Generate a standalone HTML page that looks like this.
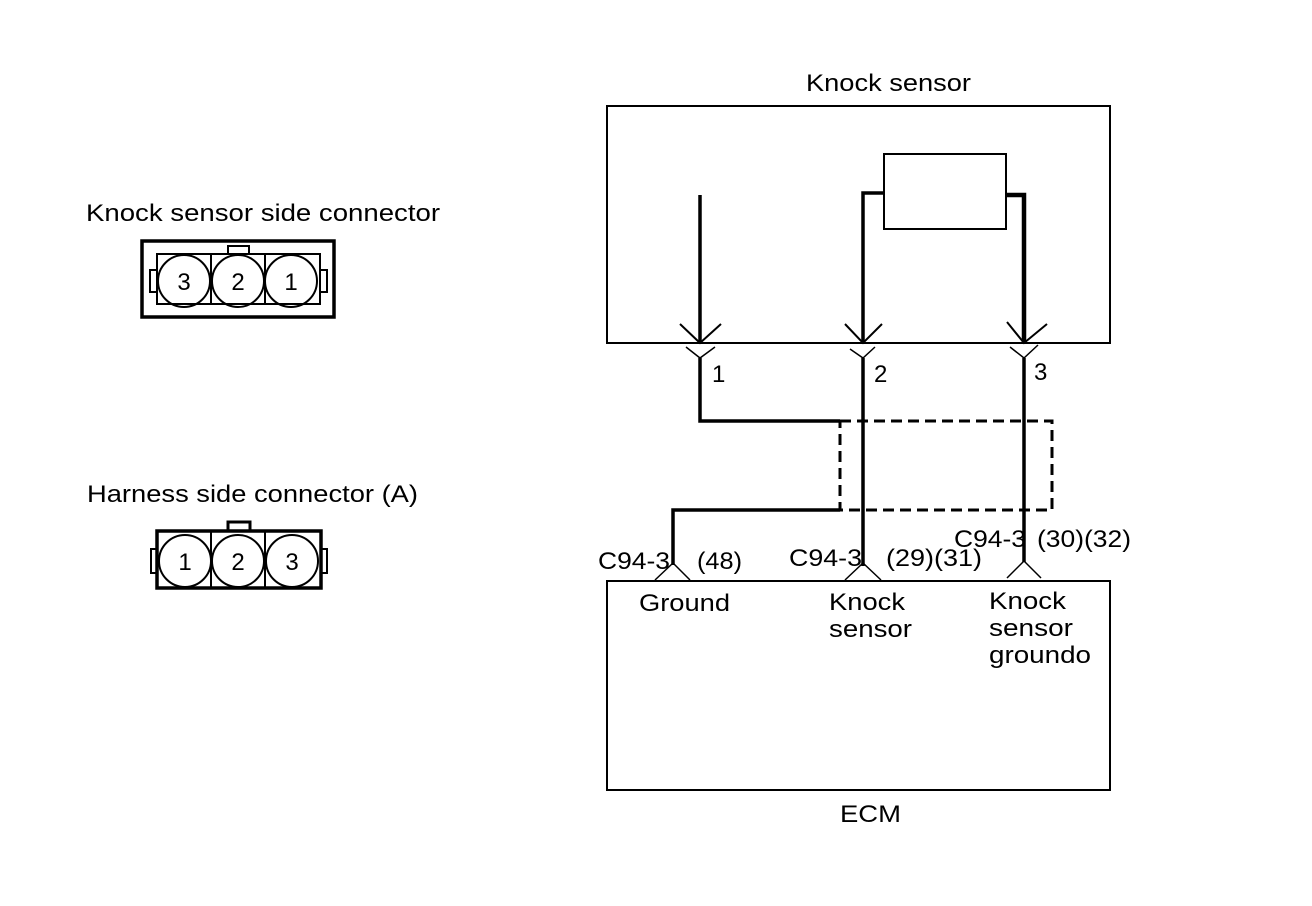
<!DOCTYPE html>
<html><head><meta charset="utf-8"><style>
html,body{margin:0;padding:0;background:#fff;}
svg{display:block;}
text{font-family:"Liberation Sans",sans-serif;fill:#000;}
</style></head><body>
<svg width="1312" height="906" viewBox="0 0 1312 906" xmlns="http://www.w3.org/2000/svg">
<g font-size="24" lengthAdjust="spacingAndGlyphs">
<text x="806" y="91" textLength="165" lengthAdjust="spacingAndGlyphs">Knock sensor</text>
<text x="86" y="221" textLength="354" lengthAdjust="spacingAndGlyphs">Knock sensor side connector</text>
<text x="87" y="502" textLength="331" lengthAdjust="spacingAndGlyphs">Harness side connector (A)</text>
<text x="840" y="822" textLength="61" lengthAdjust="spacingAndGlyphs">ECM</text>
<text x="639" y="611" textLength="91" lengthAdjust="spacingAndGlyphs">Ground</text>
<text x="829" y="610" textLength="76" lengthAdjust="spacingAndGlyphs">Knock</text>
<text x="829" y="637" textLength="83" lengthAdjust="spacingAndGlyphs">sensor</text>
<text x="989" y="609" textLength="77" lengthAdjust="spacingAndGlyphs">Knock</text>
<text x="989" y="636" textLength="84" lengthAdjust="spacingAndGlyphs">sensor</text>
<text x="989" y="663" textLength="102" lengthAdjust="spacingAndGlyphs">groundo</text>
<text x="598" y="569" textLength="72" lengthAdjust="spacingAndGlyphs">C94-3</text>
<text x="697" y="569" textLength="45" lengthAdjust="spacingAndGlyphs">(48)</text>
<text x="789" y="566" textLength="73" lengthAdjust="spacingAndGlyphs">C94-3</text>
<text x="886" y="566" textLength="96" lengthAdjust="spacingAndGlyphs">(29)(31)</text>
<text x="954" y="547" textLength="72" lengthAdjust="spacingAndGlyphs">C94-3</text>
<text x="1037" y="547" textLength="94" lengthAdjust="spacingAndGlyphs">(30)(32)</text>
<text x="712" y="382">1</text>
<text x="874" y="382">2</text>
<text x="1034" y="380">3</text>
</g>
<g fill="none" stroke="#000">
<rect x="607" y="106" width="503" height="237" stroke-width="2"/>
<rect x="884" y="154" width="122" height="75" stroke-width="2"/>
<rect x="607" y="581" width="503" height="209" stroke-width="2"/>
<line x1="700" y1="195" x2="700" y2="343" stroke-width="3.5"/>
<polyline points="884,193 863,193 863,343" stroke-width="3.5"/>
<polyline points="1006,195 1024,195 1024,343" stroke-width="4.5"/>
<polyline points="680,324 700,343 721,324" stroke-width="2"/>
<polyline points="845,324 863,343 882,324" stroke-width="2"/>
<polyline points="1007,322 1024,343 1047,324" stroke-width="2"/>
<polyline points="686,347 700,358 715,347" stroke-width="1.5"/>
<polyline points="850,349 863,358 875,347" stroke-width="1.5"/>
<polyline points="1010,347 1024,358 1038,345" stroke-width="1.5"/>
<polyline points="700,358 700,421 840,421" stroke-width="3.5"/>
<polyline points="840,510 673,510 673,565" stroke-width="3.5"/>
<line x1="863" y1="358" x2="863" y2="566" stroke-width="3.5"/>
<line x1="1024" y1="358" x2="1024" y2="562" stroke-width="3.5"/>
<polyline points="840,421 1052,421 1052,510 840,510 840,421" stroke-width="3" stroke-dasharray="11,6"/>
<polyline points="655,580 673,563 690,580" stroke-width="1.5"/>
<polyline points="845,580 863,563 881,580" stroke-width="1.5"/>
<polyline points="1007,578 1024,561 1041,578" stroke-width="1.5"/>

<rect x="142" y="241" width="192" height="76" stroke-width="3.5"/>
<rect x="157" y="254" width="163" height="50" stroke-width="2"/>
<rect x="228" y="246" width="21" height="8" stroke-width="2"/>
<rect x="150" y="270" width="7" height="22" stroke-width="2"/>
<rect x="320" y="270" width="7" height="22" stroke-width="2"/>
<line x1="211" y1="254" x2="211" y2="304" stroke-width="2"/>
<line x1="265" y1="254" x2="265" y2="304" stroke-width="2"/>
<circle cx="184" cy="281" r="26" stroke-width="2"/>
<circle cx="238" cy="281" r="26" stroke-width="2"/>
<circle cx="291" cy="281" r="26" stroke-width="2"/>
<rect x="157" y="531" width="164" height="57" stroke-width="3.5"/>
<rect x="228" y="522" width="22" height="9" stroke-width="3"/>
<rect x="151" y="549" width="6" height="24" stroke-width="2"/>
<rect x="321" y="549" width="6" height="24" stroke-width="2"/>
<line x1="211" y1="531" x2="211" y2="588" stroke-width="2"/>
<line x1="265" y1="531" x2="265" y2="588" stroke-width="2"/>
<circle cx="185" cy="561" r="26" stroke-width="2"/>
<circle cx="238" cy="561" r="26" stroke-width="2"/>
<circle cx="292" cy="561" r="26" stroke-width="2"/>
</g>
<g font-size="24" text-anchor="middle">
<text x="184" y="290">3</text><text x="238" y="290">2</text><text x="291" y="290">1</text>
<text x="185" y="570">1</text><text x="238" y="570">2</text><text x="292" y="570">3</text>
</g>
</svg>
</body></html>
